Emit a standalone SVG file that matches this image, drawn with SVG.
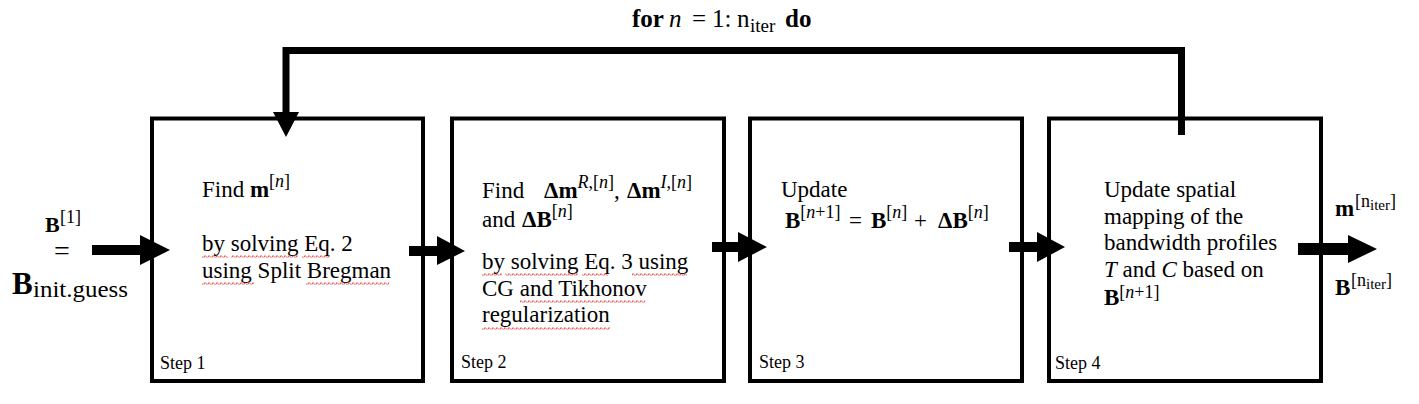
<svg xmlns="http://www.w3.org/2000/svg" width="1419" height="404" viewBox="0 0 1419 404" font-family="'Liberation Serif', 'DejaVu Serif', serif">
<style>
.box{fill:#fff;stroke:#000;stroke-width:4}
text{font-family:'Liberation Serif','DejaVu Serif',serif;fill:#000}
.t{font-size:23px}
.step{font-size:18px}
.b{font-weight:bold}
.i{font-style:italic}
.sup{font-size:18px}
.arrow{fill:#000;stroke:none}
.loop{fill:none;stroke:#000;stroke-width:7;stroke-linejoin:miter}
.sq{fill:url(#squig)}
</style>
<defs>
<pattern id="squig" patternUnits="userSpaceOnUse" x="0" y="0" width="4" height="3">
<path d="M0,2.5 L1,0.5 L3,2.5 L4,1.5" fill="none" stroke="#e03030" stroke-width="0.8"/>
</pattern>
</defs>
<rect width="1419" height="404" fill="#fff"/>

<g id="title">
<text y="27" font-size="25" font-family="Liberation Serif, serif"><tspan x="632" class="b">for</tspan><tspan x="669" class="i">n</tspan><tspan x="692">=</tspan><tspan x="712">1:</tspan><tspan x="737">n</tspan><tspan x="750" dy="5" font-size="19">iter</tspan><tspan x="785" dy="-5" class="b">do</tspan></text>
</g>

<g id="input">
<text y="232" font-size="22" font-family="Liberation Serif, serif"><tspan x="45" class="b">B</tspan><tspan x="60" dy="-9" font-size="18">[1]</tspan></text>
<text x="62" y="260" font-size="28" text-anchor="middle" font-family="Liberation Serif, serif">=</text>
<text y="294" font-size="31" font-family="Liberation Serif, serif"><tspan x="12" class="b">B</tspan><tspan x="33" dy="3" font-size="24" textLength="95" lengthAdjust="spacingAndGlyphs">init.guess</tspan></text>
</g>

<g id="step1" font-family="Liberation Serif, serif">
<rect class="box" x="152" y="118.5" width="271" height="262.5"/>
<text class="t" y="197"><tspan x="202">Find </tspan><tspan class="b">m</tspan><tspan class="sup" dy="-10">[<tspan class="i">n</tspan>]</tspan></text>
<text class="t" x="202" y="251">by solving Eq. 2</text>
<text class="t" x="202" y="278">using Split Bregman</text>
<rect class="sq" x="202" y="255" width="26" height="3"/>
<rect class="sq" x="231" y="255" width="67" height="3"/>
<rect class="sq" x="302" y="255" width="28" height="3"/>
<rect class="sq" x="202" y="282" width="52" height="3"/>
<rect class="sq" x="306" y="282" width="83" height="3"/>
<text class="step" x="160" y="369">Step 1</text>
</g>

<g id="step2" font-family="Liberation Serif, serif">
<rect class="box" x="452" y="118.5" width="272" height="262.5"/>
<text class="t" y="198"><tspan x="482">Find</tspan><tspan x="544" class="b">Δm</tspan><tspan class="sup" dy="-10"><tspan class="i">R</tspan>,[<tspan class="i">n</tspan>]</tspan><tspan dy="10">,</tspan><tspan x="627" class="b">Δm</tspan><tspan class="sup" dy="-10"><tspan class="i">I</tspan>,[<tspan class="i">n</tspan>]</tspan></text>
<text class="t" y="227"><tspan x="482">and </tspan><tspan x="522" class="b">ΔB</tspan><tspan class="sup" dy="-10">[<tspan class="i">n</tspan>]</tspan></text>
<text class="t" x="482" y="269">by solving Eq. 3 using</text>
<text class="t" x="482" y="296">CG and Tikhonov</text>
<text class="t" x="482" y="322">regularization</text>
<rect class="sq" x="482" y="273" width="20" height="3"/>
<rect class="sq" x="505" y="273" width="73" height="3"/>
<rect class="sq" x="582" y="273" width="26" height="3"/>
<rect class="sq" x="632" y="273" width="55" height="3"/>
<rect class="sq" x="520" y="300" width="125" height="3"/>
<rect class="sq" x="482" y="327" width="128" height="3"/>
<text class="step" x="461" y="368">Step 2</text>
</g>

<g id="step3" font-family="Liberation Serif, serif">
<rect class="box" x="750" y="118.5" width="272" height="262.5"/>
<text class="t" x="781" y="197">Update</text>
<text class="t" y="228"><tspan x="785" class="b">B</tspan><tspan class="sup" dy="-10">[<tspan class="i">n</tspan>+1]</tspan><tspan x="849" dy="10">=</tspan><tspan x="871" class="b">B</tspan><tspan class="sup" dy="-10">[<tspan class="i">n</tspan>]</tspan><tspan x="914" dy="10">+</tspan><tspan x="938" class="b">ΔB</tspan><tspan class="sup" dy="-10">[<tspan class="i">n</tspan>]</tspan></text>
<text class="step" x="759" y="368">Step 3</text>
</g>

<g id="step4" font-family="Liberation Serif, serif">
<rect class="box" x="1049" y="118.5" width="272" height="262.5"/>
<text class="t" x="1104" y="197">Update spatial</text>
<text class="t" x="1104" y="224">mapping of the</text>
<text class="t" x="1104" y="250">bandwidth profiles</text>
<text class="t" x="1104" y="277"><tspan class="i">T</tspan> and <tspan class="i">C</tspan> based on</text>
<text class="t" y="305"><tspan x="1104" class="b">B</tspan><tspan class="sup" dy="-7">[<tspan class="i">n</tspan>+1]</tspan></text>
<text class="step" x="1055" y="369">Step 4</text>
</g>

<g id="output" font-family="Liberation Serif, serif">
<text y="216" font-size="23"><tspan x="1335" class="b">m</tspan><tspan x="1355" dy="-9" font-size="18">[n</tspan><tspan dy="3" font-size="15">iter</tspan><tspan dy="-3" font-size="18">]</tspan></text>
<text y="295" font-size="23"><tspan x="1335" class="b">B</tspan><tspan x="1351" dy="-9" font-size="18">[n</tspan><tspan dy="3" font-size="15">iter</tspan><tspan dy="-3" font-size="18">]</tspan></text>
</g>

<g id="connectors">
<path class="loop" d="M1181.5,135 V50.5 H286 V113"/>
<polygon class="arrow" points="273,112 299,112 286,137"/>
<polygon class="arrow" points="92,245 140,245 140,235 170,250 140,265 140,255 92,255"/>
<polygon class="arrow" points="409,246 437,246 437,236 465,251 437,265 437,256 409,256"/>
<polygon class="arrow" points="712,242 738,242 738,232 767,247 738,262 738,252 712,252"/>
<polygon class="arrow" points="1009,242 1037,242 1037,232 1065,247 1037,262 1037,252 1009,252"/>
<polygon class="arrow" points="1298,243 1348,243 1348,235 1377,249 1348,263 1348,255 1298,255"/>
</g>
</svg>
